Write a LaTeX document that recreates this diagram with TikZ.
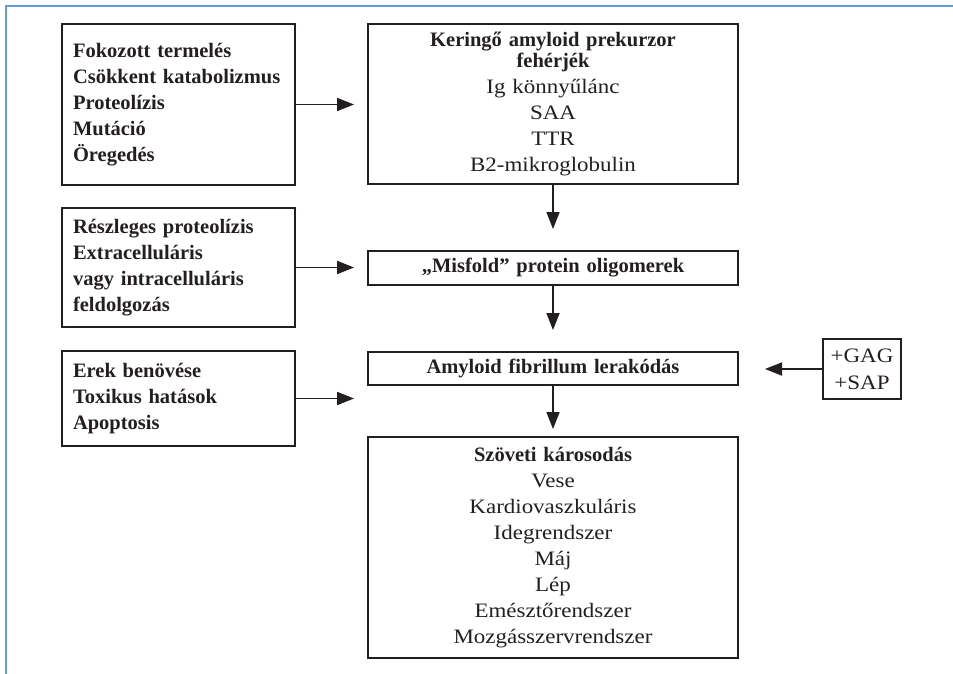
\documentclass[tikz,border=0pt]{standalone}
\usepackage{fontspec}
\setmainfont{Liberation Serif}[UprightFeatures={FakeStretch=1.12}]
\usetikzlibrary{arrows.meta}
\definecolor{framebl}{RGB}{98,158,210}
\definecolor{ink}{RGB}{35,31,32}
\begin{document}
\begin{tikzpicture}[x=1pt,y=-1pt,
  box/.style={draw=ink, line width=2pt, inner sep=0pt, text=ink,
    font=\fontsize{20.5}{26}\selectfont},
  leftbox/.style={box, inner xsep=11pt, text width=211pt, minimum width=233pt, align=left,
    font=\fontsize{20.5}{26}\selectfont\bfseries},
  midbox/.style={box, text width=370pt, minimum width=370pt, align=center},
  arr/.style={draw=ink, line width=1.8pt, -{Triangle[length=17pt,width=13pt]}}]
\useasboundingbox (0,0) rectangle (953,674);
\draw[framebl, line width=1.5pt] (953,6) -- (6,6) -- (6,674);

\node[leftbox, minimum height=161pt] (b1) at (178.5,104.5)
  {Fokozott termelés\\Csökkent katabolizmus\\Proteolízis\\Mutáció\\Öregedés};
\node[leftbox, minimum height=119pt] (l2) at (178.5,267.5)
  {Részleges proteolízis\\Extracelluláris\\vagy intracelluláris\\feldolgozás};
\node[leftbox, minimum height=95pt] (l3) at (178.5,398.5)
  {Erek benövése\\Toxikus hatások\\Apoptosis};

\node[midbox, minimum height=160pt] (ker) at (553,104)
  {\textbf{Keringő amyloid prekurzor}\\[-5pt]\textbf{fehérjék}\\Ig könnyűlánc\\SAA\\TTR\\B2-mikroglobulin};
\node[midbox, minimum height=34pt] (mis) at (553,268)
  {\textbf{„Misfold” protein oligomerek}};
\node[midbox, minimum height=33pt] (amy) at (553,368.5)
  {\textbf{Amyloid fibrillum lerakódás}};
\node[midbox, minimum height=221pt] (sz) at (553,547.5)
  {\textbf{Szöveti károsodás}\\Vese\\Kardiovaszkuláris\\Idegrendszer\\Máj\\Lép\\Emésztőrendszer\\Mozgásszervrendszer};
\node[box, text width=78pt, minimum width=78pt, minimum height=60pt, align=center,
  font=\fontsize{20.5}{27}\selectfont] (gag) at (862,369) {+GAG\\+SAP};

\draw[arr, shorten >=13pt] (b1.east) -- (b1.east -| ker.west);
\draw[arr, shorten >=13pt] (l2.east) -- (l2.east -| mis.west);
\draw[arr, shorten >=13pt] (l3.east) -- (l3.east -| amy.west);
\draw[arr, shorten >=21pt] (ker.south) -- (mis.north);
\draw[arr, shorten >=21pt] (mis.south) -- (amy.north);
\draw[arr, shorten >=7pt] (amy.south) -- (sz.north);
\draw[arr, shorten >=26pt] (gag.west) -- (gag.west -| amy.east);
\end{tikzpicture}
\end{document}
